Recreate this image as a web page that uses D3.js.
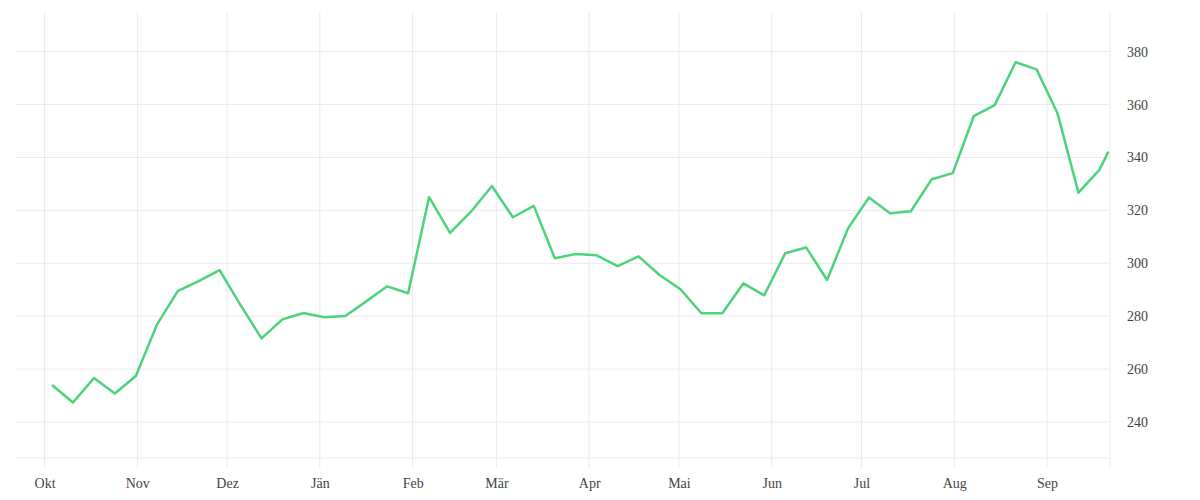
<!DOCTYPE html>
<html>
<head>
<meta charset="utf-8">
<script src="https://cdn.jsdelivr.net/npm/d3@7"></script>
<style>
  body { margin: 0; background: #fff; }
  .axis text { font-family: "Liberation Serif", serif; font-size: 14px; fill: #444; }
</style>
</head>
<body>
<svg id="chart"></svg>
<script>
// weekly readings (dates at midday), last one is a partial week
const dates = [
  '2017-10-03', '2017-10-10', '2017-10-17', '2017-10-24', '2017-10-31',
  '2017-11-07', '2017-11-14', '2017-11-21', '2017-11-28',
  '2017-12-05', '2017-12-12', '2017-12-19', '2017-12-26',
  '2018-01-02', '2018-01-09', '2018-01-16', '2018-01-23', '2018-01-30',
  '2018-02-06', '2018-02-13', '2018-02-20', '2018-02-27',
  '2018-03-06', '2018-03-13', '2018-03-20', '2018-03-27',
  '2018-04-03', '2018-04-10', '2018-04-17', '2018-04-24',
  '2018-05-01', '2018-05-08', '2018-05-15', '2018-05-22', '2018-05-29',
  '2018-06-05', '2018-06-12', '2018-06-19', '2018-06-26',
  '2018-07-03', '2018-07-10', '2018-07-17', '2018-07-24', '2018-07-31',
  '2018-08-07', '2018-08-14', '2018-08-21', '2018-08-28',
  '2018-09-04', '2018-09-11', '2018-09-18', '2018-09-21'
];
const values = [
  254.0, 247.4, 256.6, 250.8, 257.4,
  276.7, 289.5, 293.3, 297.4,
  284.2, 271.6, 278.8, 281.2, 279.6,
  280.1, 285.6, 291.3, 288.7,
  325.0, 311.5, 319.5, 329.2,
  317.4, 321.7, 301.9, 303.5,
  303.0, 298.9, 302.6, 295.6,
  290.2, 281.1, 281.1, 292.4, 287.9,
  303.8, 306.0, 293.7, 313.2,
  324.9, 318.9, 319.7, 331.8, 334.1,
  355.6, 359.8, 376.0, 373.3,
  356.7, 326.7, 335.3, 342.2
];
const monthLabels = ['Jän', 'Feb', 'Mär', 'Apr', 'Mai', 'Jun', 'Jul', 'Aug', 'Sep', 'Okt', 'Nov', 'Dez'];
const yTicks = [240, 260, 280, 300, 320, 340, 360, 380];

const width = 1200, height = 500;
const plot = { left: 15, right: 1110, top: 12, bottom: 458 };

const svg = d3.select('#chart').attr('width', width).attr('height', height);

const data = dates.map((d, i) => ({ date: new Date(d + 'T12:00'), value: values[i] }));

const x = d3.scaleTime()
  .domain([new Date('2017-09-21T03:00'), new Date('2018-09-22T01:00')])
  .range([plot.left, plot.right]);

const y = d3.scaleLinear()
  .domain([226.4, 395])
  .range([plot.bottom, plot.top]);

// horizontal grid
svg.append('g')
  .selectAll('line')
  .data(yTicks)
  .join('line')
  .attr('x1', plot.left).attr('x2', plot.right)
  .attr('y1', d => y(d)).attr('y2', d => y(d))
  .attr('stroke', '#ebebeb');

// bottom edge
svg.append('line')
  .attr('x1', plot.left).attr('x2', plot.right)
  .attr('y1', plot.bottom).attr('y2', plot.bottom)
  .attr('stroke', '#ebebeb');

// vertical grid at month starts, plus the right edge
const months = x.ticks(d3.timeMonth.every(1));
svg.append('g')
  .selectAll('line')
  .data(months)
  .join('line')
  .attr('x1', d => x(d)).attr('x2', d => x(d))
  .attr('y1', plot.top).attr('y2', plot.bottom + 10)
  .attr('stroke', '#ebebeb');

svg.append('line')
  .attr('x1', plot.right).attr('x2', plot.right)
  .attr('y1', plot.top).attr('y2', plot.bottom + 10)
  .attr('stroke', '#ebebeb');

// x axis labels
const xAxis = svg.append('g')
  .attr('class', 'axis')
  .attr('transform', `translate(0,${plot.bottom + 10})`)
  .call(d3.axisBottom(x)
    .tickValues(months)
    .tickSize(0)
    .tickPadding(10)
    .tickFormat(d => monthLabels[d.getMonth()]));
xAxis.select('.domain').remove();

// y axis labels on the right
const yAxis = svg.append('g')
  .attr('class', 'axis')
  .attr('transform', `translate(${plot.right},0)`)
  .call(d3.axisRight(y).tickValues(yTicks).tickSize(0).tickPadding(17));
yAxis.select('.domain').remove();

// the line
const line = d3.line()
  .x(d => x(d.date))
  .y(d => y(d.value));

svg.append('path')
  .datum(data)
  .attr('d', line)
  .attr('fill', 'none')
  .attr('stroke', '#4cd37b')
  .attr('stroke-width', 2.5)
  .attr('stroke-linejoin', 'round');
</script>
</body>
</html>
